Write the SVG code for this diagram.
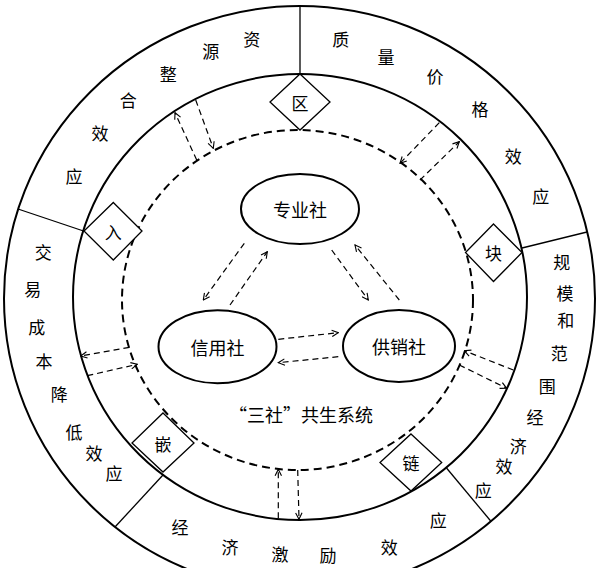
<svg xmlns="http://www.w3.org/2000/svg" width="600" height="568" viewBox="0 0 600 568">
<style>
.ring{fill:none;stroke:#000;stroke-width:2}
.dring{fill:none;stroke:#000;stroke-width:2;stroke-dasharray:8 5}
.div{stroke:#000;stroke-width:1.3}
.dia{fill:#fff;stroke:#000;stroke-width:1.3}
.node{fill:#fff;stroke:#000;stroke-width:2}
.con{fill:none;stroke:#000;stroke-width:1.2;stroke-dasharray:6 4;marker-end:url(#ah)}
text{font-family:"Noto Sans CJK SC","Noto Sans",sans-serif;fill:#000;text-anchor:middle;dominant-baseline:central}
.lb{font-size:17px}
.dt{font-size:17px}
.nt{font-size:18px}
</style>
<defs>
<marker id="ah" viewBox="0 0 10 10" refX="9" refY="5" markerWidth="8" markerHeight="8" orient="auto" markerUnits="userSpaceOnUse">
<path d="M1,1 L9,5 L1,9" fill="none" stroke="#000" stroke-width="1.4"/>
</marker>
</defs>
<rect width="600" height="568" fill="#fff"/>
<g id="rings">
<ellipse class="ring" cx="299.5" cy="298.5" rx="295.5" ry="292.5"/>
<ellipse class="ring" cx="300" cy="297" rx="227" ry="223"/>
<ellipse class="dring" cx="297.5" cy="300" rx="175.5" ry="170"/>
</g>
<g id="dividers">
<line class="div" x1="300" y1="6" x2="300" y2="74"/>
<line class="div" x1="18" y1="209" x2="83.5" y2="231"/>
<line class="div" x1="522" y1="248" x2="587" y2="232"/>
<line class="div" x1="163" y1="475" x2="115" y2="527"/>
<line class="div" x1="446.5" y1="468" x2="490.7" y2="521"/>
</g>
<g id="connectors">
<line class="con" x1="244.3" y1="243.3" x2="203.3" y2="300"/>
<line class="con" x1="230" y1="305" x2="267.3" y2="251.7"/>
<line class="con" x1="331.7" y1="250" x2="368.3" y2="300"/>
<line class="con" x1="399.3" y1="300" x2="355" y2="245"/>
<line class="con" x1="278.3" y1="339.3" x2="338.3" y2="332.7"/>
<line class="con" x1="338.3" y1="356.7" x2="278.3" y2="362.7"/>
<line class="con" x1="196.7" y1="160" x2="175" y2="112.7"/>
<line class="con" x1="195.7" y1="100" x2="213.3" y2="148.3"/>
<line class="con" x1="439.3" y1="122.7" x2="400" y2="163.3"/>
<line class="con" x1="420" y1="180" x2="459.3" y2="141.7"/>
<line class="con" x1="129.3" y1="347.3" x2="80.7" y2="356"/>
<line class="con" x1="87.3" y1="375.7" x2="137.3" y2="364.3"/>
<line class="con" x1="513.3" y1="370" x2="464.3" y2="350.7"/>
<line class="con" x1="459.3" y1="365" x2="506.7" y2="388.3"/>
<line class="con" x1="278.3" y1="518.3" x2="278.3" y2="469.3"/>
<line class="con" x1="297.7" y1="470" x2="299" y2="519.3"/>
</g>
<g id="node-zhuanye">
<ellipse class="node" cx="300" cy="209" rx="59" ry="35"/>
<text class="nt" x="300" y="209">专业社</text>
</g>
<g id="node-xinyong">
<ellipse class="node" cx="217.5" cy="346.7" rx="59" ry="36.5"/>
<text class="nt" x="217.5" y="347">信用社</text>
</g>
<g id="node-gongxiao">
<ellipse class="node" cx="399" cy="346" rx="56" ry="36"/>
<text class="nt" x="399" y="346">供销社</text>
</g>
<g id="system-label">
<text class="nt" x="301" y="414">“三社”共生系统</text>
</g>
<g id="dia-qu">
<polygon class="dia" points="300,74 330,102 300,130 270,102"/>
<text class="dt" x="300" y="102">区</text>
</g>
<g id="dia-ru">
<polygon class="dia" points="113.3,202.5 142,231 113.3,260 84,231"/>
<text class="dt" x="113.3" y="231">入</text>
</g>
<g id="dia-kuai">
<polygon class="dia" points="493.5,224 522,252.5 493.5,281.5 465.5,252.5"/>
<text class="dt" x="493.5" y="252.5">块</text>
</g>
<g id="dia-qian">
<polygon class="dia" points="163,413 194,443 163,472 132,443"/>
<text class="dt" x="163" y="443">嵌</text>
</g>
<g id="dia-lian">
<polygon class="dia" points="411,434 441.7,462.5 411,491 380,462.5"/>
<text class="dt" x="411" y="462.5">链</text>
</g>
<g id="label-ziyuan">
<text class="lb" x="251.7" y="38.3">资</text>
<text class="lb" x="210.7" y="50">源</text>
<text class="lb" x="168.3" y="73.3">整</text>
<text class="lb" x="128.3" y="99.3">合</text>
<text class="lb" x="100" y="132.7">效</text>
<text class="lb" x="74" y="175">应</text>
</g>
<g id="label-zhiliang">
<text class="lb" x="340.7" y="38.3">质</text>
<text class="lb" x="386" y="56">量</text>
<text class="lb" x="435" y="75">价</text>
<text class="lb" x="480" y="108.3">格</text>
<text class="lb" x="513.3" y="155">效</text>
<text class="lb" x="540.7" y="195">应</text>
</g>
<g id="label-guimo">
<text class="lb" x="561.7" y="261.7">规</text>
<text class="lb" x="565" y="292.7">模</text>
<text class="lb" x="565.7" y="319.3">和</text>
<text class="lb" x="559.3" y="352.7">范</text>
<text class="lb" x="547.3" y="385">围</text>
<text class="lb" x="535" y="416.7">经</text>
<text class="lb" x="518.3" y="445">济</text>
<text class="lb" x="504" y="465">效</text>
<text class="lb" x="483.3" y="489.3">应</text>
</g>
<g id="label-jiaoyi">
<text class="lb" x="43.3" y="251.7">交</text>
<text class="lb" x="32.7" y="288.3">易</text>
<text class="lb" x="36.7" y="326">成</text>
<text class="lb" x="44" y="360">本</text>
<text class="lb" x="59.3" y="393.3">降</text>
<text class="lb" x="74" y="431.7">低</text>
<text class="lb" x="94" y="452.7">效</text>
<text class="lb" x="114" y="472.7">应</text>
</g>
<g id="label-jingji">
<text class="lb" x="180" y="526.7">经</text>
<text class="lb" x="230" y="546.7">济</text>
<text class="lb" x="280" y="553">激</text>
<text class="lb" x="328" y="554.5">励</text>
<text class="lb" x="389.3" y="546.7">效</text>
<text class="lb" x="438.3" y="519.3">应</text>
</g>
</svg>
